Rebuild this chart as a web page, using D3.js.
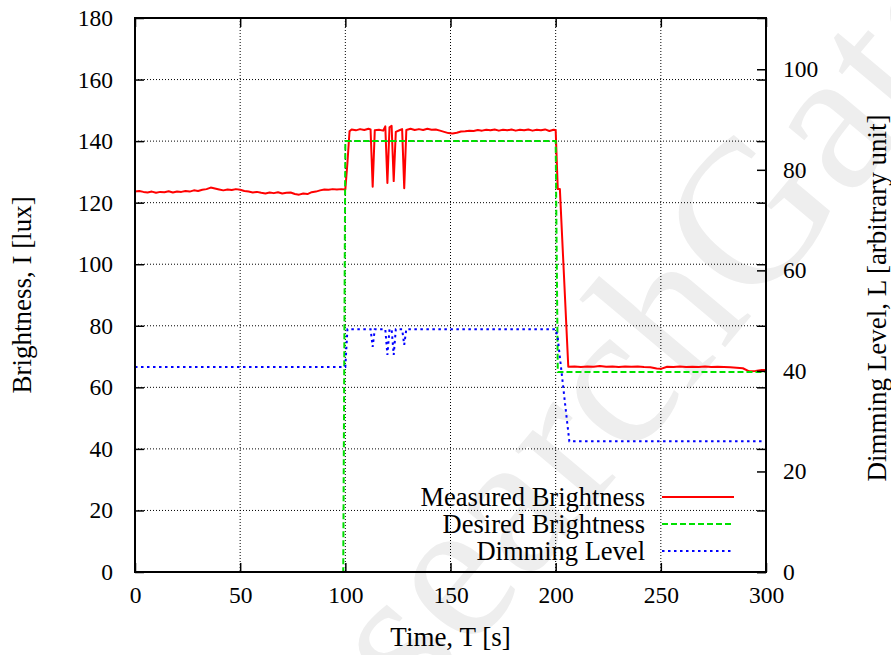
<!DOCTYPE html>
<html>
<head>
<meta charset="utf-8">
<script src="https://cdn.jsdelivr.net/npm/d3@7"></script>
<style>
  body { margin: 0; background: #fff; }
  svg { display: block; }
  text { font-family: "Liberation Serif", "DejaVu Serif", serif; fill: #000; }
</style>
</head>
<body>
<div id="chart-area"></div>
<script>
// measured brightness [lux], sampled times [s]
var measuredT = [0, 2, 4, 6, 8, 10, 12, 14, 16, 18, 20, 22, 24, 26, 28, 30, 32, 34, 36, 38,
  40, 42, 44, 46, 48, 50, 52, 54, 56, 58, 60, 62, 64, 66, 68, 70, 72, 74, 76, 78,
  80, 82, 84, 86, 88, 90, 92, 94, 96, 98, 100, 101, 102, 103, 105, 107, 109, 111, 112, 113,
  114, 116, 118, 119, 120, 121, 122, 123, 124, 126, 127, 128, 129, 131, 133, 135, 137, 139, 141, 143,
  145, 147, 149, 151, 153, 155, 157, 159, 161, 163, 165, 167, 169, 171, 173, 175, 177, 179, 181, 183,
  185, 187, 189, 191, 193, 195, 197, 199, 200, 201, 202, 206, 209, 212, 215, 218, 221, 224, 227, 230,
  233, 236, 239, 242, 245, 248, 250, 253, 256, 259, 262, 265, 268, 271, 274, 277, 280, 283, 286, 289,
  292, 295, 298, 300];
var measuredV = [123.6, 123.8, 123.5, 123.3, 123.6, 123.2, 123.5, 123.4, 123.7, 123.3, 123.6, 123.5, 123.8, 123.6, 124.0, 123.8, 124.2, 124.4, 124.9, 124.6,
  124.3, 124.0, 124.3, 124.1, 124.4, 124.2, 123.8, 123.6, 123.3, 123.5, 123.2, 123.0, 123.3, 123.1, 123.4, 123.0, 123.2, 123.3, 122.8, 122.6,
  123.0, 122.8, 123.4, 123.6, 124.0, 124.3, 124.2, 124.4, 124.3, 124.4, 124.3, 133.0, 143.2, 143.8, 143.5, 143.9, 143.6, 144.0, 143.8, 125.2,
  143.5, 143.7, 143.4, 144.8, 126.4, 144.5, 145.0, 127.0, 143.0, 143.6, 143.9, 124.7, 143.6, 144.0, 143.6, 143.9, 143.6, 144.0, 143.7, 143.8,
  143.4, 143.0, 142.6, 142.5, 142.7, 143.1, 143.2, 143.4, 143.3, 143.6, 143.4, 143.7, 143.5, 143.8, 143.4, 143.7, 143.5, 143.8, 143.4, 143.7,
  143.5, 143.8, 143.4, 143.7, 143.5, 143.8, 143.3, 143.7, 143.6, 124.4, 124.4, 66.7, 66.8, 66.6, 66.8, 66.7, 66.9, 66.7, 66.8, 66.6,
  66.8, 66.7, 66.8, 66.6, 66.5, 66.1, 66.0, 66.7, 66.6, 66.8, 66.6, 66.7, 66.6, 66.8, 66.6, 66.7, 66.6, 66.5, 66.4, 66.2,
  65.2, 65.3, 65.6, 65.6];

// desired brightness [lux]
var desiredT = [0, 99, 100, 200, 201, 300];
var desiredV = [0, 0, 140, 140, 65, 65];

// dimming level [arbitrary unit]
var dimT = [0, 100, 101, 112, 113, 114, 119, 120, 121, 122, 123, 124, 127, 128, 129, 200, 201, 203, 205, 206.5, 300];
var dimV = [40.8, 40.8, 48.3, 48.3, 44.8, 48.3, 48.3, 43.2, 48.3, 48.3, 43.2, 48.3, 48.3, 45.2, 48.3, 48.3, 46.5, 39.0, 31.5, 26.0, 26.0];

var xTicks = [0, 50, 100, 150, 200, 250, 300];
var yTicks = [0, 20, 40, 60, 80, 100, 120, 140, 160, 180];
var y2Ticks = [0, 20, 40, 60, 80, 100];
var legendNames = ["Measured Brightness", "Desired Brightness", "Dimming Level"];

var width = 891, height = 655;
var plotLeft = 135, plotRight = 766, plotTop = 18, plotBottom = 572;

var svg = d3.select('#chart-area')
    .append('svg')
        .attr('width', width)
        .attr('height', height);

// watermark
svg.append("text")
    .attr("transform", "translate(314, 837) rotate(-50)")
    .attr("font-family", "Liberation Sans, Arial, sans-serif")
    .attr("font-size", "205px")
    .style("fill", "#eeeeee")
    .text("researchGate");

var x = d3.scaleLinear().domain([0, 300]).range([plotLeft, plotRight]);
var y = d3.scaleLinear().domain([0, 180]).range([plotBottom, plotTop]);
var y2 = d3.scaleLinear().domain([0, 110]).range([plotBottom, plotTop + 1]);

// grid
var grid = svg.append("g").attr("stroke", "#000").attr("stroke-width", 1).attr("stroke-dasharray", "1,2");
grid.selectAll(".gx").data(xTicks.slice(1, -1)).enter().append("line")
    .attr("x1", (d) => x(d)).attr("x2", (d) => x(d))
    .attr("y1", plotTop).attr("y2", plotBottom);
grid.selectAll(".gy").data(yTicks.slice(1, -1)).enter().append("line")
    .attr("x1", plotLeft).attr("x2", plotRight)
    .attr("y1", (d) => y(d)).attr("y2", (d) => y(d));

// lines
var red = d3.line().x((d) => x(d[0])).y((d) => y(d[1]));
var blue = d3.line().x((d) => x(d[0])).y((d) => y2(d[1]));

svg.append("path")
    .datum(d3.zip(measuredT, measuredV))
    .attr("fill", "none").attr("stroke", "#ff0000").attr("stroke-width", 2)
    .attr("stroke-linejoin", "round")
    .attr("d", red);

svg.append("path")
    .datum(d3.zip(desiredT, desiredV))
    .attr("fill", "none").attr("stroke", "#00e000").attr("stroke-width", 2)
    .attr("stroke-dasharray", "6,3")
    .attr("d", red);

svg.append("path")
    .datum(d3.zip(dimT, dimV))
    .attr("fill", "none").attr("stroke", "#0000ff").attr("stroke-width", 2)
    .attr("stroke-dasharray", "2.5,3.5")
    .attr("d", blue);

// axes
var fs = "23.5px";
var bottomAxis = d3.axisBottom(x).tickValues(xTicks).tickSizeInner(-9).tickSizeOuter(0).tickPadding(10);
var topAxis = d3.axisTop(x).tickValues(xTicks).tickSizeInner(-9).tickSizeOuter(0).tickFormat("");
var leftAxis = d3.axisLeft(y).tickValues(yTicks).tickSizeInner(-9).tickSizeOuter(0).tickPadding(22);
var rightMirror = d3.axisRight(y).tickValues(yTicks).tickSizeInner(-9).tickSizeOuter(0).tickFormat("");
var rightAxis = d3.axisRight(y2).tickValues(y2Ticks).tickSizeInner(-9).tickSizeOuter(0).tickPadding(17);

function styleAxis(g) {
    g.select(".domain").remove();
    g.selectAll(".tick line").attr("stroke", "#000").attr("stroke-width", 1.5);
    g.selectAll("text").style("font-size", fs);
}

svg.append("g").attr("transform", "translate(0," + plotBottom + ")").call(bottomAxis).call(styleAxis)
    .selectAll("text").attr("dy", "0.9em");
svg.append("g").attr("transform", "translate(0," + plotTop + ")").call(topAxis).call(styleAxis);
svg.append("g").attr("transform", "translate(" + plotLeft + ",0)").call(leftAxis).call(styleAxis);
svg.append("g").attr("transform", "translate(" + plotRight + ",0)").call(rightMirror).call(styleAxis);
svg.append("g").attr("transform", "translate(" + plotRight + ",0)").call(rightAxis).call(styleAxis);

// frame
svg.append("rect")
    .attr("x", plotLeft).attr("y", plotTop)
    .attr("width", plotRight - plotLeft).attr("height", plotBottom - plotTop)
    .attr("fill", "none").attr("stroke", "#000").attr("stroke-width", 2);

// legend
var legendColors = ["#ff0000", "#00e000", "#0000ff"];
var legendDash = [null, "6,3", "2.5,3.5"];
var lg = svg.append("g");
legendNames.forEach((name, i) => {
    var yy = 497 + i * 27;
    lg.append("text")
        .attr("x", 645).attr("y", yy + 9)
        .attr("text-anchor", "end")
        .style("font-size", "26.5px")
        .text(name);
    lg.append("line")
        .attr("x1", 662).attr("x2", 734)
        .attr("y1", yy).attr("y2", yy)
        .attr("stroke", legendColors[i]).attr("stroke-width", 2)
        .attr("stroke-dasharray", legendDash[i]);
});

// axis labels
svg.append("text")
    .attr("x", (plotLeft + plotRight) / 2)
    .attr("y", 646)
    .style("font-size", "27px")
    .attr("text-anchor", "middle")
    .text("Time, T [s]");

svg.append("text")
    .attr("x", -295)
    .attr("y", 31)
    .style("font-size", "27px")
    .attr("text-anchor", "middle")
    .attr("transform", "rotate(-90)")
    .text("Brightness, I [lux]");

svg.append("text")
    .attr("x", -298)
    .attr("y", 886)
    .style("font-size", "27px")
    .attr("text-anchor", "middle")
    .attr("transform", "rotate(-90)")
    .text("Dimming Level, L [arbitrary unit]");
</script>
</body>
</html>
